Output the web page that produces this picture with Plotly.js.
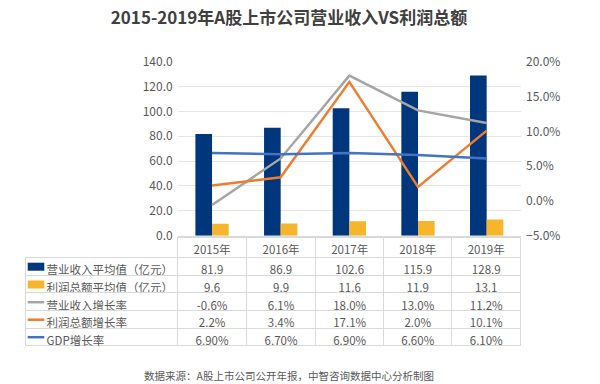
<!DOCTYPE html>
<html>
<head>
<meta charset="utf-8">
<script src="https://cdn.plot.ly/plotly-3.0.1.min.js"></script>
<style>html,body{margin:0;padding:0;background:#fff;}#chart{width:600px;height:384px;}</style>
</head>
<body>
<div id="chart"></div>
<script>
// ---- data ----
const years = ['2015年', '2016年', '2017年', '2018年', '2019年'];
const revenueAvg = [81.9, 86.9, 102.6, 115.9, 128.9];
const profitAvg = [9.6, 9.9, 11.6, 11.9, 13.1];
const revenueGrowth = [-0.6, 6.1, 18.0, 13.0, 11.2];
const profitGrowth = [2.2, 3.4, 17.1, 2.0, 10.1];
const gdpGrowth = [6.90, 6.70, 6.90, 6.60, 6.10];
const seriesNames = ['营业收入平均值（亿元）', '利润总额平均值（亿元）', '营业收入增长率', '利润总额增长率', 'GDP增长率'];

// ---- helpers (pixel -> paper) ----
const W = 600, H = 384;
const px = x => x / W;
const py = y => 1 - y / H;
const FONT = '"Noto Sans CJK SC", "Noto Sans", sans-serif';
const TXT = '#595959';
const colors = {rev: '#00367C', prof: '#F7B52C', revG: '#A5A5A5', profG: '#ED7D31', gdp: '#4472C4'};

const pct = v => v.toFixed(1) + '%';
const pct2 = v => v.toFixed(2) + '%';
const indent = '\u00a0\u00a0\u00a0\u00a0\u00a0';

const cellCols = [seriesNames.map(s => indent + s)];
for (let i = 0; i < years.length; i++) {
  cellCols.push([
    revenueAvg[i].toFixed(1),
    profitAvg[i].toFixed(1),
    pct(revenueGrowth[i]),
    pct(profitGrowth[i]),
    pct2(gdpGrowth[i])
  ]);
}

const traces = [
  {type: 'bar', x: years, y: revenueAvg, name: seriesNames[0], marker: {color: colors.rev}, xaxis: 'x', yaxis: 'y'},
  {type: 'bar', x: years, y: profitAvg, name: seriesNames[1], marker: {color: colors.prof}, xaxis: 'x', yaxis: 'y'},
  {type: 'scatter', mode: 'lines', x: years, y: revenueGrowth.map(v => v / 100), name: seriesNames[2], line: {color: colors.revG, width: 2.5}, xaxis: 'x', yaxis: 'y2'},
  {type: 'scatter', mode: 'lines', x: years, y: profitGrowth.map(v => v / 100), name: seriesNames[3], line: {color: colors.profG, width: 2.5}, xaxis: 'x', yaxis: 'y2'},
  {type: 'scatter', mode: 'lines', x: years, y: gdpGrowth.map(v => v / 100), name: seriesNames[4], line: {color: colors.gdp, width: 2.5}, xaxis: 'x', yaxis: 'y2'},
  {
    type: 'table',
    domain: {x: [px(25.7), px(521)], y: [py(350), py(237.5)]},
    columnwidth: [152, 69, 69, 68.3, 68, 69],
    header: {
      values: [''].concat(years),
      align: 'center',
      height: 20.2,
      font: {family: FONT, size: 11.5, color: TXT},
      fill: {color: 'rgba(0,0,0,0)'},
      line: {color: ['rgba(0,0,0,0)', '#D9D9D9', '#D9D9D9', '#D9D9D9', '#D9D9D9', '#D9D9D9'], width: 1}
    },
    cells: {
      values: cellCols,
      align: ['left', 'center', 'center', 'center', 'center', 'center'],
      height: 17.6,
      font: {family: FONT, size: 11.5, color: TXT},
      fill: {color: 'rgba(0,0,0,0)'},
      line: {color: '#D9D9D9', width: 1}
    }
  }
];

const keyX0 = px(27.7), keyX1 = px(44.3);
const rowC = [266.7, 284.5, 302.2, 319.7, 337.2];
const shapes = [
  {type: 'rect', xref: 'paper', yref: 'paper', x0: keyX0, x1: keyX1, y0: py(rowC[0] + 4), y1: py(rowC[0] - 4), fillcolor: colors.rev, line: {width: 0}, layer: 'below'},
  {type: 'rect', xref: 'paper', yref: 'paper', x0: keyX0, x1: keyX1, y0: py(rowC[1] + 4), y1: py(rowC[1] - 4), fillcolor: colors.prof, line: {width: 0}, layer: 'below'},
  {type: 'line', xref: 'paper', yref: 'paper', x0: keyX0, x1: keyX1, y0: py(rowC[2]), y1: py(rowC[2]), line: {color: colors.revG, width: 2.5}, layer: 'below'},
  {type: 'line', xref: 'paper', yref: 'paper', x0: keyX0, x1: keyX1, y0: py(rowC[3]), y1: py(rowC[3]), line: {color: colors.profG, width: 2.5}, layer: 'below'},
  {type: 'line', xref: 'paper', yref: 'paper', x0: keyX0, x1: keyX1, y0: py(rowC[4]), y1: py(rowC[4]), line: {color: colors.gdp, width: 2.5}, layer: 'below'}
];

const layout = {
  width: W, height: H,
  margin: {l: 0, r: 0, t: 0, b: 0},
  paper_bgcolor: '#ffffff', plot_bgcolor: '#ffffff',
  showlegend: false,
  font: {family: FONT, size: 12, color: TXT},
  barmode: 'group',
  bargap: 0.515,
  bargroupgap: 0,
  title: {
    text: '<b>2015-2019年A股上市公司营业收入VS利润总额</b>',
    x: px(289), xanchor: 'center', y: py(18.5), yanchor: 'middle',
    font: {family: FONT, size: 17, color: '#404040'}
  },
  xaxis: {
    domain: [px(177.7), px(521)],
    type: 'category',
    showticklabels: false,
    showline: true, linecolor: '#D9D9D9', linewidth: 1,
    showgrid: false, zeroline: false, ticks: ''
  },
  yaxis: {
    domain: [py(235.7), py(61.7)],
    range: [0, 140], dtick: 20, tickformat: '.1f',
    showgrid: true, gridcolor: '#E6E6E6', gridwidth: 1,
    zeroline: false, showline: false, ticks: '',
    tickfont: {family: FONT, size: 12, color: TXT},
    ticklabelstandoff: 4
  },
  yaxis2: {
    overlaying: 'y', side: 'right', anchor: 'x',
    range: [-0.05, 0.20], dtick: 0.05, tickformat: '.1%',
    showgrid: false, zeroline: false, showline: false, ticks: '',
    tickfont: {family: FONT, size: 12, color: TXT},
    ticklabelstandoff: 4
  },
  shapes: shapes,
  annotations: [
    {text: '数据来源：A股上市公司公开年报，中智咨询数据中心分析制图', xref: 'paper', yref: 'paper',
     x: px(289), y: py(375), xanchor: 'center', yanchor: 'middle', showarrow: false,
     font: {family: FONT, size: 10.5, color: TXT}}
  ]
};

Plotly.newPlot('chart', traces, layout, {staticPlot: true, displayModeBar: false});
</script>
</body>
</html>
